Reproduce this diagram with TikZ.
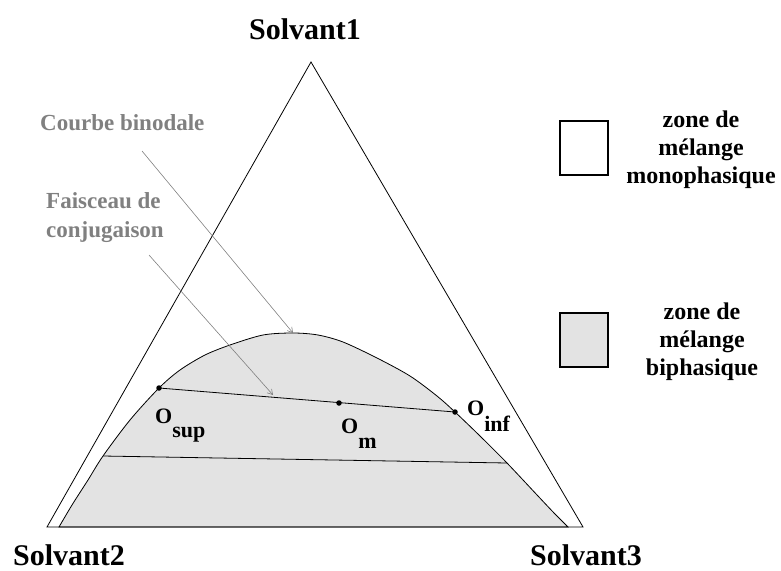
\documentclass[tikz,border=0pt]{standalone}
\usepackage{fontspec}
\setmainfont{Liberation Serif}
\usetikzlibrary{arrows.meta}
\definecolor{binfill}{RGB}{227,227,227}

\begin{document}
\begin{tikzpicture}[x=1pt,y=-1pt,
  solv/.style={font=\bfseries\fontsize{30}{36}\selectfont,inner sep=0pt,anchor=base},
  zone/.style={font=\bfseries\fontsize{24}{28}\selectfont,align=center,inner sep=0pt},
  gris/.style={font=\bfseries\fontsize{23}{29}\selectfont,text=gray,align=left,inner sep=0pt},
  olbl/.style={font=\bfseries\fontsize{22}{26}\selectfont,inner sep=0pt,anchor=base west},
  fleche/.style={gray,line width=0.6pt,-{Straight Barb[length=5pt,width=6pt]}},
  dot/.style={circle,fill,inner sep=0pt,minimum size=5.5pt},
  legbox/.style={draw,line width=1.2pt,minimum width=48pt,minimum height=54pt}]
\useasboundingbox (0,0) rectangle (781,570);

% Triangle
\coordinate (S1) at (311,62);
\coordinate (S2) at (47,527);
\coordinate (S3) at (583,527);

% Binodal curve and tie lines
\coordinate (B0) at (59,527);
\coordinate (B1) at (568,527);
\coordinate (Osup) at (159,388);
\coordinate (Om) at (339,403);
\coordinate (Oinf) at (455,412);
\coordinate (T1) at (103,456);
\coordinate (T2) at (507,463);
\coordinate (top) at (293,333);
\coordinate (tie) at (273,395);
\filldraw[fill=binfill,line width=0.8pt] plot[smooth,tension=0.5] coordinates {
  (B0) (72,505) (88,480) (T1) (130,420) (Osup) (180,370) (205,355) (230,345)
  (263,335) (top) (318,335) (343,342) (377,358) (410,376) (437,396) (Oinf)
  (480,436) (T2) (538,496) (555,514) (B1)} -- cycle;
\draw[line width=0.8pt] (S2) -- (S1) -- (S3) -- cycle;
\draw[line width=0.8pt] (Osup) -- (Oinf);
\draw[line width=0.8pt] (T1) -- (T2);
\node[dot] (dsup) at (Osup) {};
\node[dot] (dm) at (Om) {};
\node[dot] (dinf) at (Oinf) {};

% Labels
\node[solv] (s1) at (305,39) {Solvant1};
\node[solv] (s2) at (69,565) {Solvant2};
\node[solv] (s3) at (586,565) {Solvant3};
\node[olbl] (lsup) at (155,423) {O\raisebox{-14pt}{sup}};
\node[olbl] (lm) at (341,433) {O\raisebox{-15pt}{m}};
\node[olbl] (linf) at (467,415) {O\raisebox{-16pt}{inf}};

% Gray arrows
\node[gris,anchor=base west] (cb) at (40,130) {Courbe binodale};
\node[gris,anchor=west] (fc) at (46,218) {Faisceau de\\conjugaison};
\coordinate (a1) at (142,151);
\coordinate (a2) at (149,255);
\draw[fleche] (a1) -- (top);
\draw[fleche] (a2) -- (tie);

% Legend
\node[legbox] (mono) at (584,148) {};
\node[legbox,fill=binfill] (bi) at (584,340) {};
\node[zone] (tmono) at (701,150) {zone de\\m\'elange\\monophasique};
\node[zone] (tbi) at (702,342) {zone de\\m\'elange\\biphasique};
\end{tikzpicture}
\end{document}
